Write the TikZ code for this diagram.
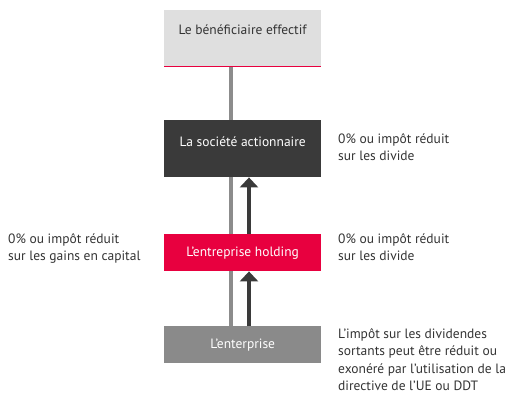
\documentclass[tikz,border=0pt]{standalone}
\usepackage{fontspec}
\setmainfont{PT Sans}
\usetikzlibrary{arrows.meta}
\definecolor{txt}{HTML}{333333}
\definecolor{lightbox}{HTML}{DFDFDF}
\definecolor{darkbox}{HTML}{3A3A3A}
\definecolor{redbox}{HTML}{E8003F}
\definecolor{greybox}{HTML}{8A8A8A}
\definecolor{greyline}{HTML}{8C8C8C}
\begin{document}
\begin{tikzpicture}[x=1bp,y=-1bp,
  box/.style={rectangle,inner sep=0pt,minimum width=157bp,anchor=north west,font=\fontsize{13.5bp}{16bp}\selectfont,text=white},
  note/.style={anchor=north west,inner sep=0pt,align=left,text=txt,font=\fontsize{13.5bp}{17.5bp}\selectfont},
  uparrow/.style={line width=4bp,draw=darkbox,-{Triangle[width=18bp,length=10bp]}},
  spine/.style={line width=3.5bp,draw=greyline}]
\useasboundingbox (0,0) rectangle (529,403);
% spine
\coordinate (s1) at (231,66);
\coordinate (s2) at (231,326);
\draw[spine] (s1) -- (s2);
% boxes
\node[box,fill=lightbox,text=txt,minimum height=56bp] (b1) at (164,10) {\raisebox{8bp}[\height][\depth]{Le bénéficiaire effectif}};
\draw[redbox,line width=1.2bp] (b1.south west) -- (b1.south east);
\node[box,fill=darkbox,minimum height=57bp] (b2) at (164,120) {\raisebox{7bp}[\height][\depth]{La société actionnaire}};
\node[box,fill=redbox,minimum height=37bp] (b3) at (164,234) {L’entreprise holding};
\node[box,fill=greybox,minimum height=37bp] (b4) at (164,326) {L’enterprise};
% arrows
\draw[uparrow] (b3.north west -| 249,0) -- (b2.south west -| 249,0);
\draw[uparrow] (b4.north west -| 249,0) -- (b3.south west -| 249,0);
% notes
\node[note] (n1) at (338,133) {0\% ou impôt réduit\\sur les divide};
\node[note] (n2) at (338,233) {0\% ou impôt réduit\\sur les divide};
\node[note] (n3) at (8,233) {0\% ou impôt réduit\\sur les gains en capital};
\node[note] (n4) at (338,328) {L'impôt sur les dividendes\\sortants peut être réduit ou\\exonéré par l'utilisation de la\\directive de l’UE ou DDT};
\end{tikzpicture}
\end{document}
